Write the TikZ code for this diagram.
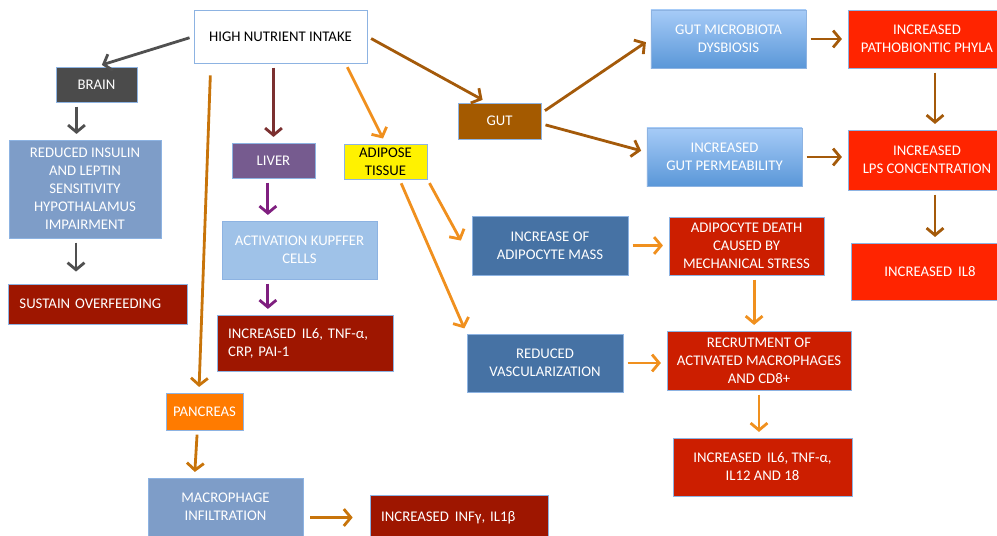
\documentclass[tikz,border=0pt]{standalone}
\usepackage{fontspec}
\setmainfont{Carlito}
\usetikzlibrary{arrows.meta}
\definecolor{boxline}{HTML}{8DB3E2}
\definecolor{brainc}{HTML}{4B4B4B}
\definecolor{steelc}{HTML}{7E9DC8}
\definecolor{darkred}{HTML}{9E1600}
\definecolor{liverc}{HTML}{765B8F}
\definecolor{kupc}{HTML}{9FC2E8}
\definecolor{gradtop}{HTML}{A6CBF7}
\definecolor{gradbot}{HTML}{5A97D8}
\definecolor{pancc}{HTML}{FF7B00}
\definecolor{gutc}{HTML}{A45A00}
\definecolor{brightred}{HTML}{FF2400}
\definecolor{midblue}{HTML}{4672A4}
\definecolor{redc}{HTML}{CC1E00}
\definecolor{grayarr}{HTML}{505050}
\definecolor{liverarr}{HTML}{7B3030}
\definecolor{purplearr}{HTML}{7F1F7F}
\definecolor{orangearr}{HTML}{F0901E}
\definecolor{pancarr}{HTML}{C8740A}
\definecolor{gutarr}{HTML}{A45A0A}
\newcommand{\dsp}{\hspace{0.4em}}
\begin{document}
\begin{tikzpicture}[x=0.025cm,y=-0.025cm]
\tikzstyle{mybox}=[draw=boxline,line width=0.6pt,text=white,align=center,inner sep=2pt,
  font=\fontsize{10.5}{12.8}\selectfont]
\tikzstyle{leftbox}=[mybox,align=left,inner xsep=0.28cm]
\tikzstyle{gradbox}=[mybox,top color=gradtop,bottom color=gradbot]
\tikzstyle{myarrow}=[-{Straight Barb[length=5pt,width=12pt,line width=2pt]},line width=2pt,shorten <=3pt,shorten >=4pt]
\useasboundingbox (0,0) rectangle (997,536);

% left branch
\node[mybox,fill=white,text=black,minimum width=4.325cm,minimum height=1.325cm] (hni) at (280.5,36.5) {HIGH NUTRIENT INTAKE};
\node[mybox,fill=brainc,minimum width=2.025cm,minimum height=0.875cm] (brain) at (96.5,84.5) {BRAIN};
\node[mybox,fill=steelc,minimum width=3.8cm,minimum height=2.45cm] (insulin) at (85,189) {REDUCED INSULIN\\AND LEPTIN\\SENSITIVITY\\HYPOTHALAMUS\\IMPAIRMENT};
\node[leftbox,fill=darkred,minimum width=4.475cm,minimum height=1cm,text width=3.9cm] (overfeed) at (97.5,304) {SUSTAIN OVERFEEDING};

\node[mybox,fill=liverc,minimum width=2.075cm,minimum height=0.875cm] (liver) at (273.5,160.5) {LIVER};
\node[mybox,fill=kupc,minimum width=3.875cm,minimum height=1.45cm] (kupffer) at (299.5,250) {ACTIVATION KUPFFER\\CELLS};
\node[leftbox,fill=darkred,minimum width=4.4cm,minimum height=1.4cm,text width=3.84cm] (liverout) at (305,343) {INCREASED\dsp IL6, TNF-α,\\CRP, PAI-1};

\node[mybox,fill=pancc,minimum width=1.925cm,minimum height=0.925cm] (pancreas) at (204.5,411.5) {PANCREAS};
\node[mybox,fill=steelc,minimum width=3.875cm,minimum height=1.45cm] (infiltr) at (225.5,507) {MACROPHAGE\\INFILTRATION};
\node[leftbox,fill=darkred,minimum width=4.45cm,minimum height=1.125cm,text width=3.89cm] (infout) at (459,517.5) {INCREASED\dsp INFγ, IL1β};

% adipose tissue
\node[mybox,fill=yellow,text=black,minimum width=2.075cm,minimum height=0.875cm] (adipose) at (385.5,161.5) {ADIPOSE\\TISSUE};
\node[mybox,fill=midblue,minimum width=3.9cm,minimum height=1.475cm] (mass) at (550,245.5) {INCREASE OF\\ADIPOCYTE MASS};
\node[mybox,fill=redc,minimum width=3.875cm,minimum height=1.45cm] (death) at (746.5,246) {ADIPOCYTE DEATH\\CAUSED BY\\MECHANICAL STRESS};
\node[mybox,fill=midblue,minimum width=3.9cm,minimum height=1.45cm] (vasc) at (545,363) {REDUCED\\VASCULARIZATION};
\node[mybox,fill=redc,minimum width=4.6cm,minimum height=1.475cm] (recrut) at (759,360.5) {RECRUTMENT OF\\ACTIVATED MACROPHAGES\\AND CD8+};
\node[mybox,fill=redc,minimum width=4.475cm,minimum height=1.45cm] (il12) at (762.5,467) {INCREASED\dsp IL6, TNF-α,\\IL12 AND 18};

% gut
\node[mybox,fill=gutc,minimum width=2.075cm,minimum height=0.9cm] (gut) at (499.5,121) {GUT};
\node[gradbox,minimum width=3.875cm,minimum height=1.45cm] (dysbio) at (728.5,39) {GUT MICROBIOTA\\DYSBIOSIS};
\node[gradbox,minimum width=3.875cm,minimum height=1.45cm] (permeab) at (724.5,157) {INCREASED\\GUT PERMEABILITY};
\node[mybox,fill=brightred,minimum width=3.95cm,minimum height=1.45cm] (phyla) at (927,39) {INCREASED\\PATHOBIONTIC PHYLA};
\node[mybox,fill=brightred,minimum width=3.95cm,minimum height=1.5cm] (lps) at (927,160) {INCREASED\\LPS CONCENTRATION};
\node[mybox,fill=brightred,minimum width=3.95cm,minimum height=1.425cm] (il8) at (930,271.5) {INCREASED\dsp IL8};

% arrows
\draw[myarrow,grayarr] (hni.west) -- (brain.north);
\draw[myarrow,grayarr] ([xshift=-0.5cm]brain.south) -- ([xshift=-0.5cm]brain.south |- insulin.north);
\draw[myarrow,grayarr,shorten >=0.3cm] ([xshift=-0.225cm]insulin.south) -- ([xshift=-0.225cm]insulin.south |- overfeed.north);

\draw[myarrow,liverarr] (hni.south -| liver.north) -- (liver.north);
\draw[myarrow,purplearr] ([xshift=-0.14cm]liver.south) -- ([xshift=-0.14cm]liver.south |- kupffer.north);
\draw[myarrow,purplearr] ([xshift=-0.14cm]liver.south |- kupffer.south) -- ([xshift=-0.14cm]liver.south |- liverout.north);

\draw[myarrow,pancarr,shorten <=0.3cm] ([xshift=0.43cm]hni.south west) -- ([xshift=-0.14cm]pancreas.north);
\draw[myarrow,pancarr] ([xshift=-0.18cm]pancreas.south) -- ([xshift=-0.25cm]pancreas.south |- infiltr.north);
\draw[myarrow,pancarr,shorten <=5pt,shorten >=12pt] (infiltr.east |- infout.west) -- (infout.west);

\draw[myarrow,orangearr] ([xshift=-0.55cm]hni.south east) -- (adipose.north);
\draw[myarrow,orangearr] (adipose.south east) -- ([xshift=-0.2cm]mass.west);
\draw[myarrow,orangearr] ([xshift=0.35cm]adipose.south) -- (vasc.north west);
\draw[myarrow,orangearr] (mass.east) -- (mass.east -| death.west);
\draw[myarrow,orangearr] ([xshift=0.19cm]death.south) -- ([xshift=0.19cm]death.south |- recrut.north);
\draw[myarrow,orangearr] (vasc.east) -- (vasc.east -| recrut.west);
\draw[myarrow,orangearr] (recrut.south) -- (recrut.south |- il12.north);

\draw[myarrow,gutarr] (hni.east) -- ([xshift=-0.3cm]gut.north);
\draw[myarrow,gutarr] ([yshift=0.2cm]gut.east) -- (dysbio.west);
\draw[myarrow,gutarr] ([yshift=-0.07cm]gut.east) -- ([yshift=0.12cm]permeab.west);
\draw[myarrow,gutarr] (dysbio.east) -- (dysbio.east -| phyla.west);
\draw[myarrow,gutarr] (permeab.east) -- (permeab.east -| lps.west);
\draw[myarrow,gutarr] ([xshift=0.2cm]phyla.south) -- ([xshift=0.2cm]phyla.south |- lps.north);
\draw[myarrow,gutarr] ([xshift=0.2cm]lps.south) -- ([xshift=0.2cm]lps.south |- il8.north);

\end{tikzpicture}
\end{document}
